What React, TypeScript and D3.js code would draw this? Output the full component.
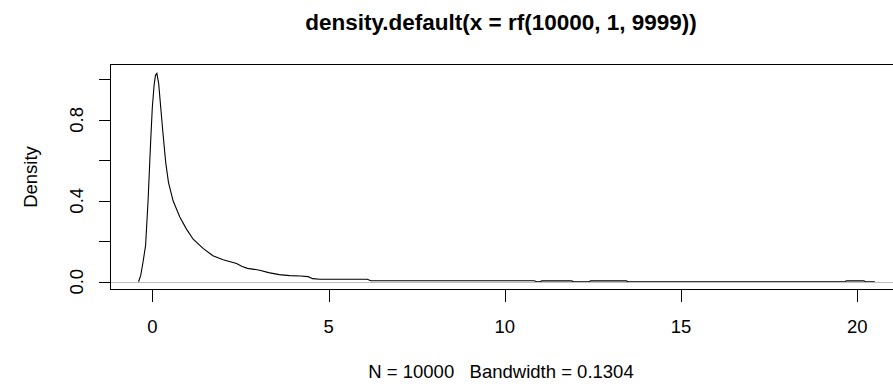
import React, { useEffect, useRef } from 'react';
import * as d3 from 'd3';

// density estimate (x, density)
const densX = [
  -0.39, -0.33, -0.26, -0.19, -0.12, -0.05, 0.0, 0.05, 0.09, 0.13, 0.18, 0.24,
  0.31, 0.38, 0.46, 0.59, 0.78, 0.97, 1.16, 1.44, 1.72, 2.01, 2.39, 2.55, 2.7,
  3.05, 3.3, 3.6, 3.9, 4.2, 4.42, 4.55, 4.75, 6.1, 6.2, 10.84, 10.9, 11.0,
  11.05, 11.9, 11.95, 12.4, 12.43, 13.45, 13.5, 19.65, 19.69, 20.19, 20.23, 20.5,
];
const densY = [
  0, 0.03, 0.1, 0.18, 0.4, 0.68, 0.86, 0.97, 1.02, 1.03, 0.98, 0.86,
  0.72, 0.59, 0.49, 0.4, 0.32, 0.26, 0.21, 0.165, 0.128, 0.108, 0.09, 0.075, 0.066,
  0.057, 0.045, 0.035, 0.03, 0.028, 0.025, 0.015, 0.012, 0.012, 0.005, 0.005, 0, 0,
  0.004, 0.004, 0, 0, 0.004, 0.004, 0, 0, 0.004, 0.004, 0, 0,
];
const xTicks = [0, 5, 10, 15, 20];
const yTicks = [0, 0.2, 0.4, 0.6, 0.8, 1.0];
const yLabels = [0, 0.4, 0.8];

const title = 'density.default(x = rf(10000, 1, 9999))';
const subTitle = 'N = 10000   Bandwidth = 0.1304';

const App = () => {
  const svgRef = useRef<SVGSVGElement>(null);

  useEffect(() => {
    document.body.style.margin = '0';
    const svg = d3.select(svgRef.current);
    svg.selectAll('*').remove();

    const width = 893;
    const height = 384;
    const box = { left: 110.5, top: 64.5, right: 895.5, bottom: 289.5 };
    const font = "'Liberation Sans', Arial, sans-serif";

    const x = d3.scaleLinear().domain([-1.2, 21.4]).range([110, 906.6]);
    const y = d3.scaleLinear().domain([-0.041, 1.071]).range([290, 65]);

    svg.attr('width', width).attr('height', height);
    svg.append('rect').attr('width', width).attr('height', height).attr('fill', '#fff');

    const pts: [number, number][] = densX.map((d, i) => [d, densY[i]]);
    const line = d3.line<[number, number]>()
      .x(d => x(d[0]))
      .y(d => y(d[1]));

    svg.append('path')
      .datum(pts)
      .attr('d', line)
      .attr('fill', 'none')
      .attr('stroke', '#000')
      .attr('stroke-width', 1.1);

    // zero line
    svg.append('line')
      .attr('x1', box.left).attr('x2', box.right)
      .attr('y1', Math.round(y(0)) + 0.5).attr('y2', Math.round(y(0)) + 0.5)
      .attr('stroke', '#bebebe')
      .attr('shape-rendering', 'crispEdges');

    svg.append('rect')
      .attr('x', box.left).attr('y', box.top)
      .attr('width', box.right - box.left).attr('height', box.bottom - box.top)
      .attr('fill', 'none')
      .attr('stroke', '#000')
      .attr('shape-rendering', 'crispEdges');

    // x axis
    const gx = svg.append('g');
    gx.selectAll('line')
      .data(xTicks)
      .enter()
      .append('line')
      .attr('x1', d => Math.round(x(d)) + 0.5).attr('x2', d => Math.round(x(d)) + 0.5)
      .attr('y1', box.bottom).attr('y2', box.bottom + 12)
      .attr('stroke', '#000')
      .attr('shape-rendering', 'crispEdges');
    gx.selectAll('text')
      .data(xTicks)
      .enter()
      .append('text')
      .attr('x', d => x(d))
      .attr('y', 333)
      .attr('text-anchor', 'middle')
      .style('font-family', font)
      .style('font-size', '18.5px')
      .text(d => d);

    // y axis
    const gy = svg.append('g');
    gy.selectAll('line')
      .data(yTicks)
      .enter()
      .append('line')
      .attr('x1', box.left - 12).attr('x2', box.left)
      .attr('y1', d => Math.round(y(d)) + 0.5).attr('y2', d => Math.round(y(d)) + 0.5)
      .attr('stroke', '#000')
      .attr('shape-rendering', 'crispEdges');
    gy.selectAll('text')
      .data(yLabels)
      .enter()
      .append('text')
      .attr('transform', d => `translate(83, ${y(d)}) rotate(-90)`)
      .attr('text-anchor', 'middle')
      .style('font-family', font)
      .style('font-size', '18.5px')
      .text(d => d3.format('.1f')(d));

    svg.append('text')
      .attr('transform', `translate(37, ${(box.top + box.bottom) / 2}) rotate(-90)`)
      .attr('text-anchor', 'middle')
      .style('font-family', font)
      .style('font-size', '18.5px')
      .text('Density');

    svg.append('text')
      .attr('x', 501).attr('y', 29.5)
      .attr('text-anchor', 'middle')
      .style('font-family', font)
      .style('font-size', '22.5px')
      .style('font-weight', 'bold')
      .text(title);

    svg.append('text')
      .attr('x', 501).attr('y', 378)
      .attr('text-anchor', 'middle')
      .style('font-family', font)
      .style('font-size', '18.5px')
      .style('white-space', 'pre')
      .text(subTitle);
  }, []);

  return <svg ref={svgRef} style={{ display: 'block' }}></svg>;
};

export default App;
